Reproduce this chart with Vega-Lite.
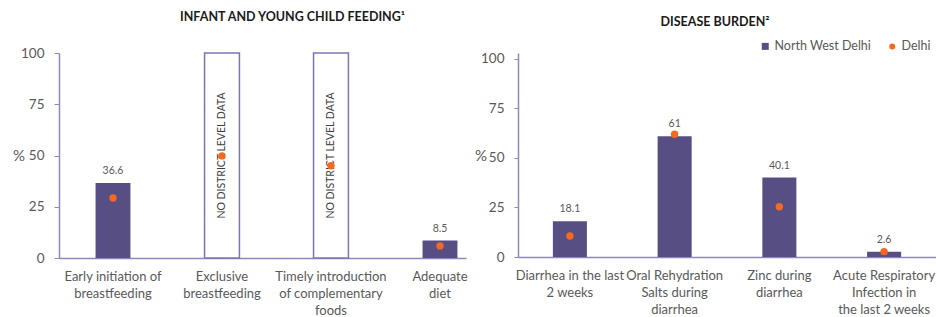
{
  "$schema": "https://vega.github.io/schema/vega-lite/v6.json",
  "padding": {"left": 12, "top": 10, "right": 0, "bottom": 0},
  "background": "white",
  "config": {
    "font": "Lato",
    "view": {"stroke": null},
    "axis": {"grid": false, "labelColor": "#595959", "titleColor": "#595959", "domainColor": "#8d87bd", "tickColor": "#8d87bd", "domainWidth": 1.5},
    "title": {"font": "Lato", "fontSize": 12.5, "fontWeight": "bold", "color": "#1a1a1a"}
  },
  "spacing": 6,
  "resolve": {"scale": {"color": "independent"}, "legend": {"color": "independent"}},
  "hconcat": [
    {
      "width": 407,
      "height": 205,
      "title": {"text": "INFANT AND YOUNG CHILD FEEDING¹", "dx": 30, "offset": 23},
      "data": {"values": [
        {"cat": "Early initiation of|breastfeeding", "nwd": 36.6, "delhi": 29.3, "nodata": false},
        {"cat": "Exclusive|breastfeeding", "nwd": null, "delhi": 49.8, "nodata": true},
        {"cat": "Timely introduction|of complementary|foods", "nwd": null, "delhi": 45.0, "nodata": true},
        {"cat": "Adequate|diet", "nwd": 8.5, "delhi": 5.9, "nodata": false}
      ]},
      "encoding": {
        "x": {"field": "cat", "type": "nominal",
          "sort": ["Early initiation of|breastfeeding", "Exclusive|breastfeeding", "Timely introduction|of complementary|foods", "Adequate|diet"],
          "scale": {"paddingInner": 0.68, "paddingOuter": 0.207, "align": 0.81},
          "axis": {"title": null, "labelAngle": 0, "ticks": false, "labelPadding": 12, "labelFontSize": 13, "labelLineHeight": 17, "labelLimit": 0, "labelExpr": "split(datum.value, '|')"}}
      },
      "layer": [
        {
          "transform": [{"filter": "datum.nodata"}],
          "mark": {"type": "bar", "fill": "white", "stroke": "#7d75b2", "strokeWidth": 1.5},
          "encoding": {"y": {"datum": 100, "type": "quantitative",
            "scale": {"domain": [0, 100], "nice": false},
            "axis": {"values": [0, 25, 50, 75, 100], "title": "%", "titleAngle": 0, "titleBaseline": "middle", "titleFontSize": 15, "titleFontWeight": "normal", "titlePadding": 2, "labelFontSize": 13.5, "labelPadding": 10, "tickSize": 5}}}
        },
        {
          "transform": [{"filter": "isValid(datum.nwd)"}],
          "mark": {"type": "bar", "color": "#574f84"},
          "encoding": {"y": {"field": "nwd", "type": "quantitative"}}
        },
        {
          "transform": [{"filter": "isValid(datum.nwd)"}],
          "mark": {"type": "text", "baseline": "bottom", "dy": -7, "fontSize": 10.5, "color": "#595959"},
          "encoding": {"y": {"field": "nwd", "type": "quantitative"}, "text": {"field": "nwd", "type": "quantitative"}}
        },
        {
          "transform": [{"filter": "datum.nodata"}],
          "mark": {"type": "text", "angle": 270, "baseline": "middle", "align": "center", "fontSize": 10.5, "color": "#404040", "text": "NO DISTRICT LEVEL DATA"},
          "encoding": {"y": {"datum": 50, "type": "quantitative"}}
        },
        {
          "mark": {"type": "point", "filled": true, "opacity": 1, "size": 55, "color": "#f26a21"},
          "encoding": {"y": {"field": "delhi", "type": "quantitative"}}
        }
      ]
    },
    {
      "width": 418,
      "height": 204,
      "title": {"text": "DISEASE BURDEN²", "dx": -12, "offset": 12},
      "data": {"values": [
        {"cat": "Diarrhea in the last|2 weeks", "nwd": 18.1, "delhi": 10.6},
        {"cat": "Oral Rehydration|Salts during|diarrhea", "nwd": 61, "delhi": 62.0},
        {"cat": "Zinc during|diarrhea", "nwd": 40.1, "delhi": 25.4},
        {"cat": "Acute Respiratory|Infection in|the last 2 weeks", "nwd": 2.6, "delhi": 2.7}
      ]},
      "encoding": {
        "x": {"field": "cat", "type": "nominal", "sort": null,
          "scale": {"paddingInner": 0.675, "paddingOuter": 0.333, "align": 0.5},
          "axis": {"title": null, "labelAngle": 0, "ticks": false, "labelPadding": 12, "labelFontSize": 13, "labelLineHeight": 17, "labelLimit": 0, "labelExpr": "split(datum.value, '|')"}}
      },
      "layer": [
        {
          "mark": {"type": "bar"},
          "encoding": {
            "y": {"field": "nwd", "type": "quantitative",
              "scale": {"domain": [0, 103.03], "nice": false},
              "axis": {"values": [0, 25, 50, 75, 100], "title": "%", "titleAngle": 0, "titleBaseline": "middle", "titleFontSize": 15, "titleFontWeight": "normal", "titlePadding": 0, "labelFontSize": 13.5, "labelPadding": 10, "tickSize": 4}},
            "color": {"datum": "North West Delhi", "type": "nominal",
              "scale": {"domain": ["North West Delhi", "Delhi"], "range": ["#574f84", "#f26a21"]},
              "legend": {"title": null, "orient": "none", "direction": "horizontal", "legendX": 241, "legendY": -13, "labelFontSize": 12.5, "labelColor": "#595959", "columnPadding": 14, "symbolOffset": 0, "labelOffset": 3,
                "encode": {"symbols": {"update": {"shape": {"signal": "datum.value === 'Delhi' ? 'circle' : 'square'"}, "size": {"signal": "datum.value === 'Delhi' ? 36 : 49"}, "strokeWidth": {"value": 0}}}}}}
          }
        },
        {
          "mark": {"type": "text", "baseline": "bottom", "dy": -7, "fontSize": 10.5, "color": "#595959"},
          "encoding": {"y": {"field": "nwd", "type": "quantitative"}, "text": {"field": "nwd", "type": "quantitative"}}
        },
        {
          "mark": {"type": "point", "filled": true, "opacity": 1, "size": 55},
          "encoding": {"y": {"field": "delhi", "type": "quantitative"}, "color": {"datum": "Delhi", "type": "nominal"}}
        }
      ]
    }
  ]
}
